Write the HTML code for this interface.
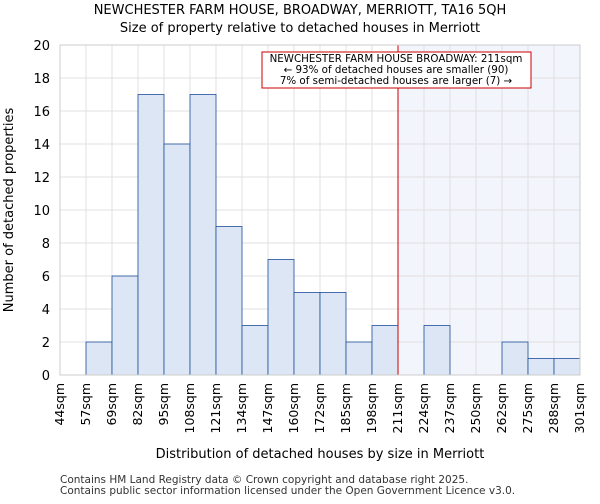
<!DOCTYPE html>
<html><head><meta charset="utf-8"><style>body{margin:0;background:#fff;font-family:"DejaVu Sans","Liberation Sans",sans-serif}</style></head>
<body>
<svg id="c" width="600" height="500" xmlns="http://www.w3.org/2000/svg"></svg>
<script>
const categories=["44sqm","57sqm","69sqm","82sqm","95sqm","108sqm","121sqm","134sqm","147sqm","160sqm","172sqm","185sqm","198sqm","211sqm","224sqm","237sqm","250sqm","262sqm","275sqm","288sqm","301sqm"];
const counts=[0,2,6,17,14,17,9,3,7,5,5,2,3,0,3,0,0,2,1,1];
const yTicks=[0,2,4,6,8,10,12,14,16,18,20];
const markerBin=13;
const L=60,R=580,T=45,B=375,yMax=20;
const bw=(R-L)/counts.length;
const x=i=>L+i*bw, y=v=>B-(v/yMax)*(B-T);
const s=document.getElementById('c'),NS="http://www.w3.org/2000/svg";
function mk(t,a,txt){const e=document.createElementNS(NS,t);for(const k in a)e.setAttribute(k,a[k]);if(txt!=null)e.textContent=txt;s.appendChild(e);return e;}
let e;
e=mk('rect',{x:x(markerBin),y:T,width:R-x(markerBin),height:B-T,fill:'#f3f5fc'});


for(let i=0;i<=counts.length;i++){e=mk('line',{x1:x(i),x2:x(i),y1:T,y2:B,stroke:'#e0e0e0'});

}
yTicks.forEach(v=>{e=mk('line',{x1:L,x2:R,y1:y(v),y2:y(v),stroke:'#e0e0e0'});


e=mk('text',{x:L-10,y:y(v)+5,'text-anchor':'end','font-size':13},v);

});
counts.forEach((c,i)=>{if(c<=0)return;e=mk('rect',{x:x(i),y:y(c),width:bw,height:B-y(c),fill:'#dce6f5',stroke:'#1f4e9c','stroke-width':0.8});

});
categories.forEach((c,i)=>{e=mk('text',{transform:`translate(${x(i)+4},${B+8}) rotate(-90)`,'text-anchor':'end','font-size':12.5},c);

});
e=mk('line',{x1:x(markerBin),x2:x(markerBin),y1:T,y2:B,stroke:'#cc0000','stroke-width':1});


e=mk('rect',{x:262,y:52,width:269,height:36,fill:'#fff',stroke:'#cc0000'});


["NEWCHESTER FARM HOUSE BROADWAY: 211sqm","← 93% of detached houses are smaller (90)","7% of semi-detached houses are larger (7) →"].forEach((t,i)=>{e=mk('text',{x:396,y:62+i*11,'text-anchor':'middle','font-size':10.3},t);

});
e=mk('rect',{x:L,y:T,width:R-L,height:B-T,fill:'none',stroke:'#ccc'});


e=mk('text',{x:300,y:14,'text-anchor':'middle','font-size':13},"NEWCHESTER FARM HOUSE, BROADWAY, MERRIOTT, TA16 5QH");


e=mk('text',{x:300,y:32,'text-anchor':'middle','font-size':13},"Size of property relative to detached houses in Merriott");


e=mk('text',{x:320,y:458,'text-anchor':'middle','font-size':13},"Distribution of detached houses by size in Merriott");


e=mk('text',{transform:'translate(13,210) rotate(-90)','text-anchor':'middle','font-size':13},"Number of detached properties");


e=mk('text',{x:60,y:483,'font-size':10.5,fill:'#333'},"Contains HM Land Registry data © Crown copyright and database right 2025.");


e=mk('text',{x:60,y:494,'font-size':10.5,fill:'#333'},"Contains public sector information licensed under the Open Government Licence v3.0.");


</script>
</body></html>
